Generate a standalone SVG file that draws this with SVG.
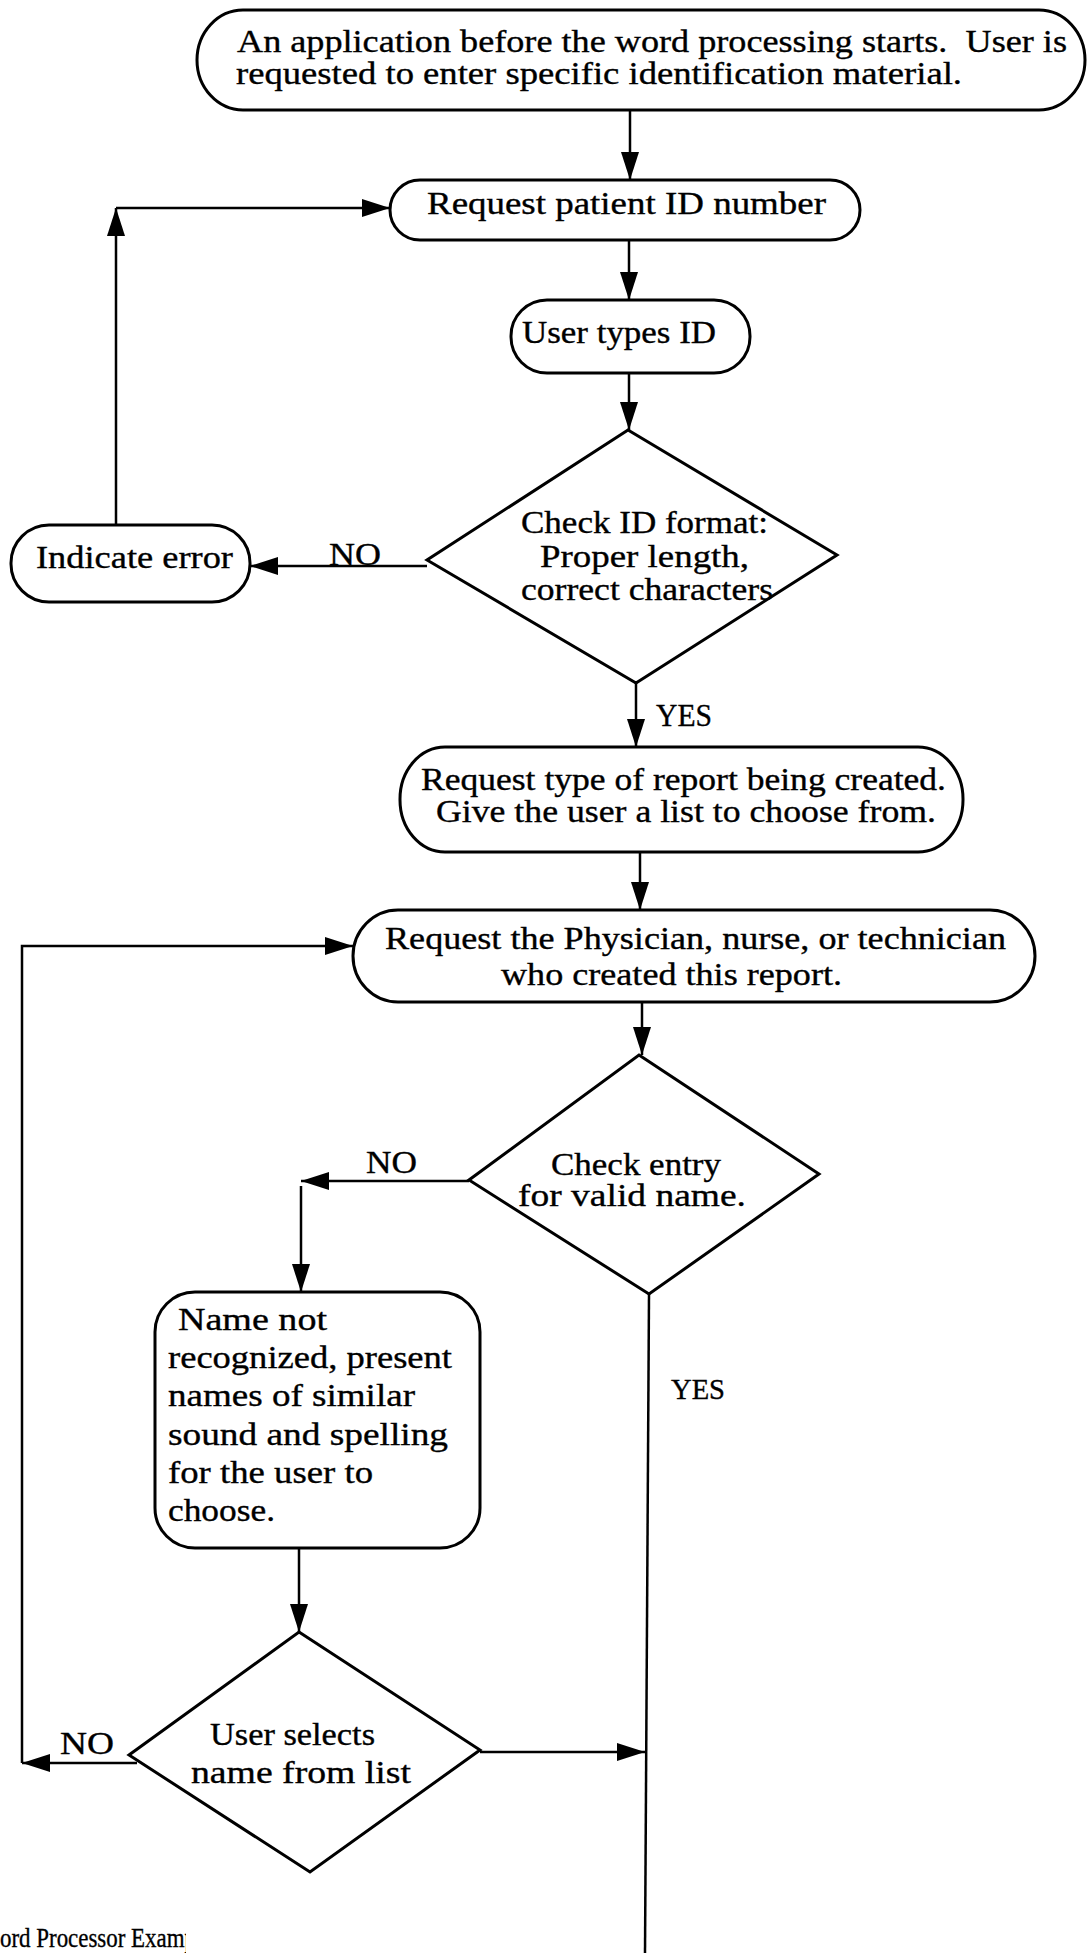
<svg xmlns="http://www.w3.org/2000/svg" width="1087" height="1953" viewBox="0 0 1087 1953">
<defs>
<marker id="ah" markerUnits="userSpaceOnUse" markerWidth="28" markerHeight="18" refX="28" refY="9" orient="auto" viewBox="0 0 28 18">
<path d="M0,0 L28,9 L0,18 z" fill="#000"/>
</marker>
<clipPath id="footclip"><rect x="0" y="1900" width="186" height="53"/></clipPath>
</defs>
<style>
.n{fill:#fff;stroke:#000;stroke-width:3}
.c{fill:none;stroke:#000;stroke-width:2.5}
.a{marker-end:url(#ah)}
text{font-family:"Liberation Serif","Times New Roman",serif;font-size:31px;fill:#000;stroke:#000;stroke-width:0.35}
</style>
<rect width="1087" height="1953" fill="#fff"/>

<g id="connectors">
<path class="c a" d="M630,110 V180"/>
<path class="c a" d="M629,240 V300"/>
<path class="c a" d="M629,373 V430"/>
<path class="c a" d="M427,566 H250"/>
<path class="c a" d="M116,525 V208"/>
<path class="c a" d="M116,208 H390"/>
<path class="c a" d="M636,683 V747"/>
<path class="c a" d="M640,852 V910"/>
<path class="c a" d="M642,1002 V1055"/>
<path class="c a" d="M469,1181 H301"/>
<path class="c a" d="M301,1186 V1292"/>
<path class="c a" d="M299,1548 V1632"/>
<path class="c a" d="M137,1763 H22"/>
<path class="c a" d="M22,1763 V946 H353"/>
<path class="c a" d="M480,1752 H645"/>
<path class="c" d="M649,1294 L645,1953"/>
<text x="329" y="565" textLength="52" lengthAdjust="spacingAndGlyphs">NO</text>
<text x="656" y="726" textLength="56" lengthAdjust="spacingAndGlyphs">YES</text>
<text x="366" y="1173" textLength="51" lengthAdjust="spacingAndGlyphs">NO</text>
<text x="671" y="1399" textLength="54" lengthAdjust="spacingAndGlyphs" style="font-size:29px">YES</text>
<text x="60" y="1754" textLength="54" lengthAdjust="spacingAndGlyphs">NO</text>
</g>

<g id="start">
<rect class="n" x="197" y="10" width="888" height="100" rx="46" ry="50"/>
<text x="237" y="52" textLength="830" lengthAdjust="spacingAndGlyphs" xml:space="preserve">An application before the word processing starts.  User is</text>
<text x="236" y="84" textLength="726" lengthAdjust="spacingAndGlyphs">requested to enter specific identification material.</text>
</g>

<g id="request-id">
<rect class="n" x="390" y="180" width="470" height="60" rx="30" ry="30"/>
<text x="427" y="214" textLength="399" lengthAdjust="spacingAndGlyphs">Request patient ID number</text>
</g>

<g id="user-types">
<rect class="n" x="511" y="300" width="239" height="73" rx="36" ry="36"/>
<text x="522" y="343" textLength="194" lengthAdjust="spacingAndGlyphs">User types ID</text>
</g>

<g id="check-id">
<polygon class="n" points="628,430 837,555 636,683 427,560"/>
<text x="521" y="533" textLength="247" lengthAdjust="spacingAndGlyphs">Check ID format:</text>
<text x="540" y="567" textLength="209" lengthAdjust="spacingAndGlyphs">Proper length,</text>
<text x="521" y="600" textLength="252" lengthAdjust="spacingAndGlyphs">correct characters</text>
</g>

<g id="indicate-error">
<rect class="n" x="11" y="525" width="239" height="77" rx="38" ry="38"/>
<text x="36" y="568" textLength="197" lengthAdjust="spacingAndGlyphs">Indicate error</text>
</g>

<g id="request-type">
<rect class="n" x="400" y="747" width="563" height="105" rx="45" ry="52"/>
<text x="421" y="790" textLength="525" lengthAdjust="spacingAndGlyphs">Request type of report being created.</text>
<text x="436" y="822" textLength="500" lengthAdjust="spacingAndGlyphs">Give the user a list to choose from.</text>
</g>

<g id="request-physician">
<rect class="n" x="353" y="910" width="682" height="92" rx="45" ry="46"/>
<text x="385" y="949" textLength="621" lengthAdjust="spacingAndGlyphs">Request the Physician, nurse, or technician</text>
<text x="501" y="985" textLength="341" lengthAdjust="spacingAndGlyphs">who created this report.</text>
</g>

<g id="check-name">
<polygon class="n" points="639,1055 819,1174 649,1294 469,1180"/>
<text x="551" y="1175" textLength="170" lengthAdjust="spacingAndGlyphs">Check entry</text>
<text x="518" y="1206" textLength="228" lengthAdjust="spacingAndGlyphs">for valid name.</text>
</g>

<g id="name-not-recognized">
<rect class="n" x="155" y="1292" width="325" height="256" rx="40" ry="40"/>
<text x="178" y="1330" textLength="149" lengthAdjust="spacingAndGlyphs">Name not</text>
<text x="168" y="1368" textLength="284" lengthAdjust="spacingAndGlyphs">recognized, present</text>
<text x="168" y="1406" textLength="247" lengthAdjust="spacingAndGlyphs">names of similar</text>
<text x="168" y="1445" textLength="280" lengthAdjust="spacingAndGlyphs">sound and spelling</text>
<text x="168" y="1483" textLength="205" lengthAdjust="spacingAndGlyphs">for the user to</text>
<text x="168" y="1521" textLength="107" lengthAdjust="spacingAndGlyphs">choose.</text>
</g>

<g id="user-selects">
<polygon class="n" points="299,1632 480,1750 310,1872 129,1755"/>
<text x="210" y="1745" textLength="165" lengthAdjust="spacingAndGlyphs">User selects</text>
<text x="191" y="1783" textLength="220" lengthAdjust="spacingAndGlyphs">name from list</text>
</g>

<g id="footer">
<text x="0" y="1947" clip-path="url(#footclip)" style="font-size:27px" textLength="196" lengthAdjust="spacingAndGlyphs">ord Processor Examp</text>
</g>
</svg>
